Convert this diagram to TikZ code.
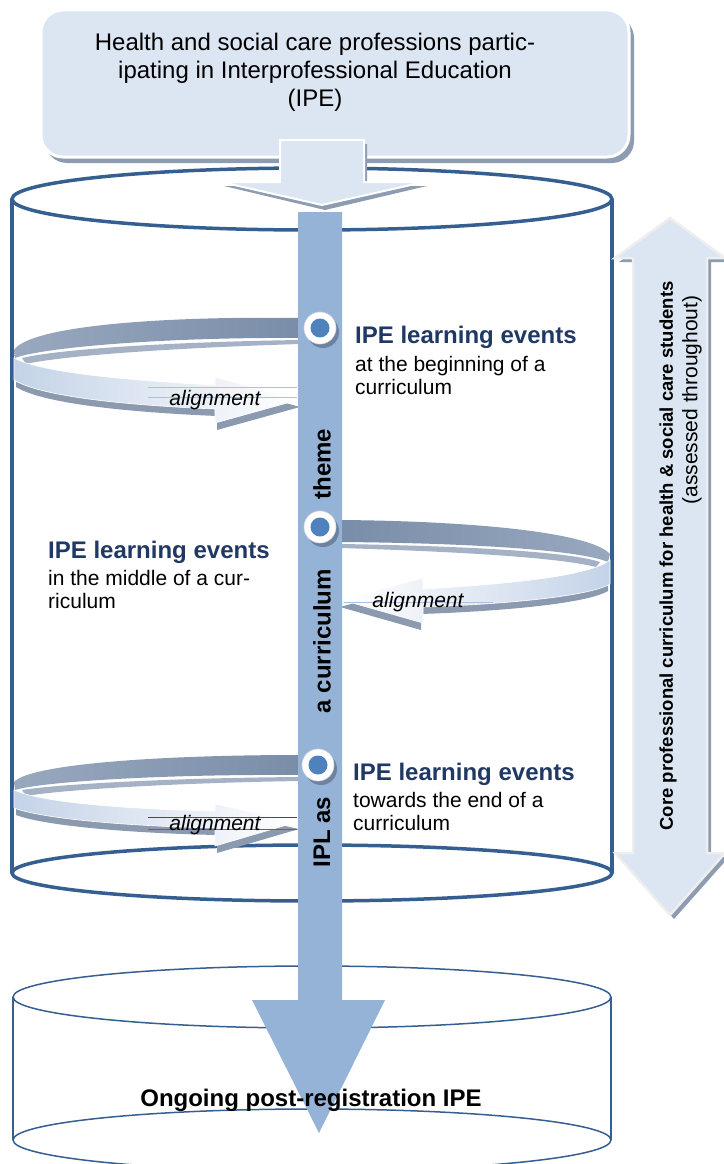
\documentclass[tikz,border=0pt]{standalone}
\usepackage{fontspec}
\setmainfont{Liberation Sans}
\definecolor{cylblue}{RGB}{54,95,145}
\definecolor{barblue}{RGB}{149,179,215}
\definecolor{boxfill}{RGB}{220,230,242}
\definecolor{shadowgray}{RGB}{142,156,177}
\definecolor{navy}{RGB}{31,56,100}
\definecolor{dotblue}{RGB}{79,129,189}
\definecolor{ribdark}{RGB}{122,141,168}
\definecolor{riblight}{RGB}{152,168,191}
\definecolor{ribside}{RGB}{165,178,197}
\definecolor{ribface}{RGB}{196,211,232}
\definecolor{ribshadow}{RGB}{140,154,175}
\definecolor{ringedge}{RGB}{215,218,224}
\definecolor{ringshadow}{RGB}{110,130,160}
\definecolor{edgegray}{RGB}{238,238,238}
\tikzset{
  cyl/.style={draw=cylblue, line width=3.5pt},
  cylthin/.style={draw=cylblue, line width=1.5pt},
  ring/.style={circle, fill=white, draw=ringedge, line width=0.6pt, minimum size=32pt, inner sep=0pt},
  ringshade/.style={circle, fill=ringshadow, minimum size=32pt, inner sep=0pt},
  dotnode/.style={circle, fill=dotblue, minimum size=19pt, inner sep=0pt},
  titletext/.style={font=\fontsize{24}{28}\selectfont\bfseries, text=navy, inner sep=0pt},
  bodytext/.style={font=\fontsize{21}{24}\selectfont, inner sep=0pt},
  aligntext/.style={font=\fontsize{21}{24}\selectfont\itshape, inner sep=0pt},
  bartext/.style={font=\fontsize{24}{28}\selectfont\bfseries, rotate=90, inner sep=0pt},
  backL/.style={left color=riblight, right color=ribdark},
  backR/.style={left color=ribdark, right color=riblight},
  frontL/.style={left color=ribface, right color=white, draw=white, line width=0.6pt},
  frontR/.style={left color=white, right color=ribface, draw=white, line width=0.6pt},
  ribsidestyle/.style={fill=ribside},
  ribshadowstyle/.style={fill=ribshadow},
  thinline/.style={draw=barblue!80, line width=0.6pt},
  blockarrow/.style={fill=boxfill, draw=edgegray, line width=2.5pt},
}
\begin{document}
\begin{tikzpicture}[x=1pt,y=-1pt]
\useasboundingbox (0,0) rectangle (723,1164);

% ---------- main cylinder ----------
\draw[cyl] (312,199) ellipse [x radius=300pt, y radius=31pt];
\draw[cyl] (12,199) -- (12,873);
\draw[cyl] (612,199) -- (612,873);
\draw[cyl] (312,873) ellipse [x radius=300pt, y radius=28pt];

% ---------- lower cylinder ----------
\draw[cylthin] (312,997) ellipse [x radius=299pt, y radius=31pt];
\draw[cylthin] (13,997) -- (13,1140);
\draw[cylthin] (611,997) -- (611,1140);
\draw[cylthin] (312,1140) ellipse [x radius=299pt, y radius=31pt];

% ---------- swirl 1 (top, to the left) ----------
\path[backL] (300,318) .. controls (160,316) and (30,326) .. (14,350) -- (15,358)
  .. controls (40,348) and (160,337) .. (300,338) -- cycle;
\path[ribsidestyle] (22,358) .. controls (60,349) and (170,342) .. (300,340) -- (300,344)
  .. controls (170,348) and (60,356) .. (26,364) -- cycle;
\path[ribshadowstyle] (16,365) .. controls (42,379) and (122,387) .. (217,392) -- (217,384) -- (300,407) -- (217,430) -- (217,416)
  .. controls (122,412) and (42,403) .. (16,387) -- cycle;
\path[frontL] (14,358) .. controls (40,372) and (120,380) .. (215,385) -- (215,377) -- (298,400) -- (215,423) -- (215,409)
  .. controls (120,405) and (40,396) .. (14,380) -- cycle;
\draw[thinline] (148,387) -- (297,387);
\draw[thinline] (148,397) -- (297,397);
\node[aligntext] (al1) at (215,400) {alignment};

% ---------- swirl 2 (middle, to the right) ----------
\path[backR] (340,520) .. controls (470,521) and (590,532) .. (610,554) -- (608,562)
  .. controls (580,550) and (470,543) .. (340,542) -- cycle;
\path[ribsidestyle] (340,544) .. controls (470,546) and (570,552) .. (600,562) -- (596,567)
  .. controls (560,558) and (470,552) .. (340,548) -- cycle;
\path[ribshadowstyle] (608,567) .. controls (588,583) and (508,591) .. (421,596) -- (421,585) -- (340,607) -- (421,630) -- (421,614)
  .. controls (508,611) and (588,603) .. (608,591) -- cycle;
\path[frontR] (610,560) .. controls (590,576) and (510,584) .. (423,589) -- (423,578) -- (342,600) -- (423,623) -- (423,607)
  .. controls (510,604) and (590,596) .. (610,584) -- cycle;
\draw[thinline] (344,602) -- (493,602);
\node[aligntext] (al2) at (418,602) {alignment};

% ---------- swirl 3 (bottom, to the left) ----------
\path[backL] (300,755) .. controls (160,755) and (30,764) .. (14,782) -- (15,790)
  .. controls (40,782) and (160,774) .. (300,775) -- cycle;
\path[ribsidestyle] (22,790) .. controls (60,784) and (170,778) .. (300,777) -- (300,781)
  .. controls (170,783) and (60,790) .. (26,796) -- cycle;
\path[ribshadowstyle] (16,797) .. controls (42,809) and (122,816) .. (217,818) -- (217,811) -- (299,829) -- (217,853) -- (217,835)
  .. controls (122,833) and (42,825) .. (16,815) -- cycle;
\path[frontL] (14,790) .. controls (40,802) and (120,809) .. (215,811) -- (215,804) -- (297,822) -- (215,846) -- (215,828)
  .. controls (120,826) and (40,818) .. (14,808) -- cycle;
\draw[draw=black!70, line width=0.6pt] (148,817) -- (297,817);
\draw[draw=black!60, line width=0.6pt] (148,829) -- (297,829);
\node[aligntext] (al3) at (215,825) {alignment};

% ---------- top box ----------
\path[fill=shadowgray, rounded corners=22pt] (45,16) rectangle (634,163);
\path[fill=boxfill, draw=white, line width=3pt, rounded corners=22pt] (41,10) rectangle (629,157);
\node[font=\fontsize{24}{28}\selectfont, align=center, inner sep=0pt] (topbox) at (315,72)
  {Health and social care professions partic-\\ipating in Interprofessional Education\\(IPE)};

% arrow from the box into the cylinder
\coordinate (tA) at (322,205);
\path[fill=shadowgray] (283,144) -- (367,144) -- (367,186) -- (427,186) -- (325,210) -- (224,186) -- (283,186) -- cycle;
\path[fill=boxfill, draw=white, line width=2pt] (280,140) -- (364,140) -- (364,182) -- (424,182) -- (tA) -- (221,182) -- (280,182) -- cycle;

% ---------- central bar arrow ----------
\coordinate (barTop) at (320,212);
\coordinate (barTip) at (319,1133);
\path[fill=barblue] (298,212) -- (342,212) -- (342,1000) -- (385,1000) -- (barTip) -- (252,1000) -- (298,1000) -- cycle;

% circles on the bar
\node[ringshade] (s1) at (323,332) {};
\node[ring] (c1) at (320,328) {};
\node[dotnode] (d1) at (c1) {};
\node[ringshade] (s2) at (323,531) {};
\node[ring] (c2) at (320,527) {};
\node[dotnode] (d2) at (c2) {};
\node[ringshade] (s3) at (321,769) {};
\node[ring] (c3) at (318,765) {};
\node[dotnode] (d3) at (c3) {};

% bar text
\node[bartext] (b1) at (322,832) {IPL as};
\node[bartext] (b2) at (322,641) {a curriculum};
\node[bartext] (b3) at (322,464) {theme};

% ---------- event labels ----------
\node[titletext, anchor=base west] (e1) at (355,343) {IPE learning events};
\node[bodytext, anchor=base west] (e1a) at (355,371) {at the beginning of a};
\node[bodytext, anchor=base west] (e1b) at (355,394) {curriculum};

\node[titletext, anchor=base west] (e2) at (48,558) {IPE learning events};
\node[bodytext, anchor=base west] (e2a) at (48,585) {in the middle of a cur-};
\node[bodytext, anchor=base west] (e2b) at (48,608) {riculum};

\node[titletext, anchor=base west] (e3) at (353,780) {IPE learning events};
\node[bodytext, anchor=base west] (e3a) at (353,807) {towards the end of a};
\node[bodytext, anchor=base west] (e3b) at (353,830) {curriculum};

% ---------- right double arrow ----------
\path[fill=shadowgray] (674,222) -- (729,262) -- (711,262) -- (711,857) -- (729,857) -- (674,919) -- (619,857) -- (637,857) -- (637,262) -- (619,262) -- cycle;
\path[blockarrow] (670,218) -- (725,258) -- (707,258) -- (707,853) -- (725,853) -- (670,915) -- (615,853) -- (633,853) -- (633,258) -- (615,258) -- cycle;
\node[rotate=90, font=\fontsize{18.5}{24}\selectfont\bfseries, inner sep=0pt] (core) at (668,556)
  {Core professional curriculum for health \& social care students};
\node[rotate=90, font=\fontsize{21}{24}\selectfont, inner sep=0pt] (assess) at (692,400)
  {(assessed throughout)};

% ---------- bottom label ----------
\node[font=\fontsize{24}{28}\selectfont\bfseries, inner sep=0pt] (post) at (311,1100)
  {Ongoing post-registration IPE};
\end{tikzpicture}
\end{document}
